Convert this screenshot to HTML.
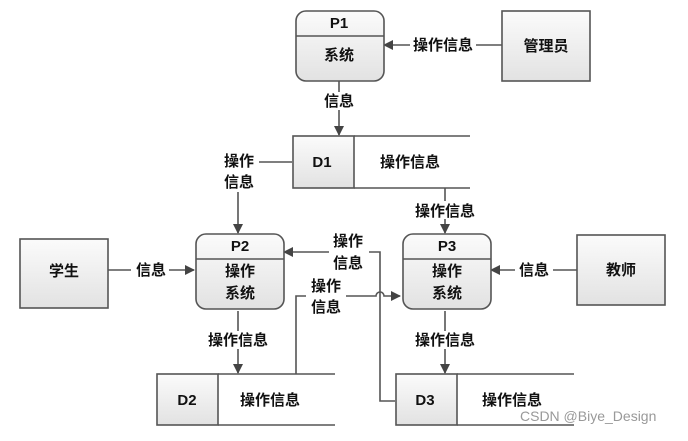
<!DOCTYPE html>
<html><head><meta charset="utf-8"><style>
html,body{margin:0;padding:0;background:#fff;}
svg text{font-family:"Liberation Sans","Noto Sans CJK SC",sans-serif;font-size:15px;font-weight:600;fill:#111;}
</style></head><body>
<svg width="688" height="436" viewBox="0 0 688 436" xmlns="http://www.w3.org/2000/svg">
<defs>
<linearGradient id="g" x1="0" y1="0" x2="0" y2="1"><stop offset="0" stop-color="#fbfbfb"/><stop offset="1" stop-color="#e2e2e2"/></linearGradient>
<marker id="a" markerWidth="10" markerHeight="10" refX="9" refY="5" orient="auto" markerUnits="userSpaceOnUse"><path d="M0,0 L10,5 L0,10 Z" fill="#444"/></marker>
</defs>
<g stroke="#555" stroke-width="1.6" fill="none">
<path d="M502,45 H384" marker-end="url(#a)"/>
<path d="M339,81 V135" marker-end="url(#a)"/>
<path d="M292,162 H238 V233" marker-end="url(#a)"/>
<path d="M445,188 V233" marker-end="url(#a)"/>
<path d="M108,270 H194" marker-end="url(#a)"/>
<path d="M577,270 H491" marker-end="url(#a)"/>
<path d="M238,311 V373" marker-end="url(#a)"/>
<path d="M445,311 V373" marker-end="url(#a)"/>
<path d="M395,401 H380 V252 H284" marker-end="url(#a)"/>
<path d="M296,374 V296 H376 A4,4 0 0 1 384,296 H400" marker-end="url(#a)"/>
</g>
<g stroke="#555" stroke-width="1.6" fill="url(#g)">
<rect x="502" y="11" width="88" height="70"/>
<rect x="20" y="239" width="88" height="69"/>
<rect x="577" y="235" width="88" height="70"/>
<rect x="296" y="11" width="88" height="70" rx="10"/>
<rect x="196" y="234" width="88" height="75" rx="10"/>
<rect x="403" y="234" width="88" height="75" rx="10"/>
</g>
<g stroke="#555" stroke-width="1.6">
<line x1="296" y1="36" x2="384" y2="36"/>
<line x1="196" y1="259" x2="284" y2="259"/>
<line x1="403" y1="259" x2="491" y2="259"/>
</g>
<g stroke="#555" stroke-width="1.6">
<rect x="293" y="136" width="61" height="52" fill="url(#g)"/>
<rect x="157" y="374" width="61" height="51" fill="url(#g)"/>
<rect x="396" y="374" width="61" height="51" fill="url(#g)"/>
<path d="M354,136 H470 M354,188 H470 M218,374 H335 M218,425 H335 M457,374 H574 M457,425 H574" fill="none"/>
</g>
<g fill="#fff">
<rect x="410" y="36" width="66" height="18"/>
<rect x="321" y="92" width="36" height="18"/>
<rect x="219" y="150" width="40" height="42"/>
<rect x="410" y="201" width="68" height="18"/>
<rect x="131" y="261" width="38" height="18"/>
<rect x="515" y="261" width="38" height="18"/>
<rect x="204" y="331" width="68" height="18"/>
<rect x="410" y="331" width="68" height="18"/>
<rect x="329" y="230" width="40" height="42"/>
<rect x="306" y="276" width="40" height="42"/>
</g>
<g text-anchor="middle">
<text x="339" y="28" font-weight="bold" font-size="13">P1</text>
<text x="339" y="60">系统</text>
<text x="546" y="51">管理员</text>
<text x="443" y="50">操作信息</text>
<text x="339" y="106">信息</text>
<text x="322" y="167" font-weight="bold" font-size="13">D1</text>
<text x="410" y="167">操作信息</text>
<text x="239" y="166">操作</text>
<text x="239" y="187">信息</text>
<text x="445" y="216">操作信息</text>
<text x="64" y="276">学生</text>
<text x="151" y="275">信息</text>
<text x="621" y="275">教师</text>
<text x="534" y="275">信息</text>
<text x="240" y="251" font-weight="bold" font-size="13">P2</text>
<text x="240" y="276">操作</text>
<text x="240" y="298">系统</text>
<text x="447" y="251" font-weight="bold" font-size="13">P3</text>
<text x="447" y="276">操作</text>
<text x="447" y="298">系统</text>
<text x="348" y="246">操作</text>
<text x="348" y="268">信息</text>
<text x="326" y="291">操作</text>
<text x="326" y="312">信息</text>
<text x="238" y="345">操作信息</text>
<text x="445" y="345">操作信息</text>
<text x="187" y="405" font-weight="bold" font-size="13">D2</text>
<text x="270" y="405">操作信息</text>
<text x="425" y="405" font-weight="bold" font-size="13">D3</text>
<text x="512" y="405">操作信息</text>
</g>
<text x="520" y="421" style="font-size:14px;font-weight:normal;fill:#999">CSDN @Biye_Design</text>
</svg>
</body></html>
